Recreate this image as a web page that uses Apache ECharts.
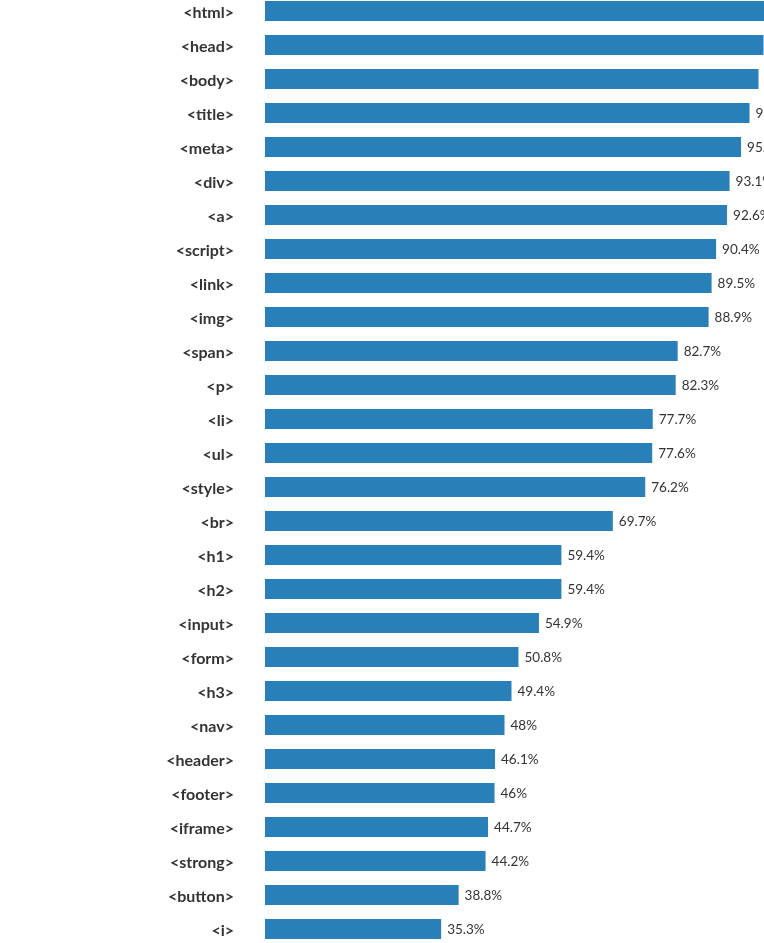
<!DOCTYPE html>
<html>
<head>
<meta charset="utf-8">
<script src="https://cdn.jsdelivr.net/npm/echarts@6/dist/echarts.min.js"></script>
<style>
    html, body { margin: 0; padding: 0; overflow: hidden; background: #fff; }
    #chart { position: absolute; left: 0; top: -6px; width: 764px; height: 952px; }
</style>
</head>
<body>
<div id="chart"></div>
<script>
// Share of pages using each HTML element (%)
const tags = ['<html>', '<head>', '<body>', '<title>', '<meta>', '<div>', '<a>', '<script>',
    '<link>', '<img>', '<span>', '<p>', '<li>', '<ul>', '<style>', '<br>', '<h1>', '<h2>',
    '<input>', '<form>', '<h3>', '<nav>', '<header>', '<footer>', '<iframe>', '<strong>',
    '<button>', '<i>'];
const usage = [100, 99.9, 98.9, 97.1, 95.4, 93.1, 92.6, 90.4,
    89.5, 88.9, 82.7, 82.3, 77.7, 77.6, 76.2, 69.7, 59.4, 59.4,
    54.9, 50.8, 49.4, 48, 46.1, 46, 44.7, 44.2,
    38.8, 35.3];

const chart = echarts.init(document.getElementById('chart'));

chart.setOption({
    animation: false,
    grid: {
        left: 265,
        right: 0,
        top: 0,
        bottom: 0
    },
    xAxis: {
        type: 'value',
        min: 0,
        max: 100,
        show: false
    },
    yAxis: {
        type: 'category',
        data: tags,
        inverse: true,
        axisLine: { show: false },
        axisTick: { show: false },
        axisLabel: {
            margin: 31,
            color: '#333',
            fontFamily: 'Lato',
            fontSize: 16,
            fontWeight: 'bold',
            verticalAlign: 'top',
            lineHeight: 4
        }
    },
    series: [{
        type: 'bar',
        data: usage,
        barCategoryGap: '41%',
        itemStyle: { color: '#2980b9' },
        label: {
            show: true,
            position: 'right',
            distance: 6,
            offset: [0, 1],
            formatter: '{c}%',
            color: '#333',
            fontFamily: 'Lato',
            fontSize: 13.5
        }
    }]
});
</script>
</body>
</html>
